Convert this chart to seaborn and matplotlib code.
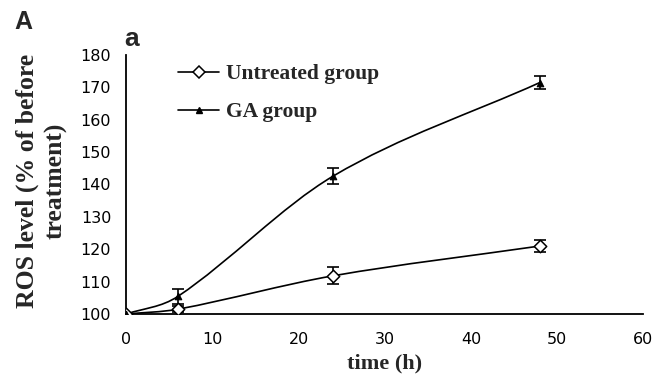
import numpy as np
import pandas as pd
import matplotlib
matplotlib.use("Agg")
import matplotlib.pyplot as plt
from matplotlib.path import Path
from matplotlib.patches import PathPatch
from matplotlib.lines import Line2D
import seaborn as sns

# ---- data ----
time_h = [0, 6, 24, 48]
untreated = [100, 101.5, 111.8, 121.0]
untreated_err = [0, 1.0, 2.6, 2.0]
ga = [100, 105.5, 142.6, 171.5]
ga_err = [0, 2.3, 2.5, 2.0]
series_names = ["Untreated group", "GA group"]
x_ticks = [0, 10, 20, 30, 40, 50, 60]
y_ticks = [100, 110, 120, 130, 140, 150, 160, 170, 180]

sns.set_theme(style="white")
plt.rcParams["font.family"] = ["DejaVu Sans"]

fig = plt.figure(figsize=(6.64, 3.84), dpi=100)
ax = fig.add_axes([0.1905, 0.1823, 0.7783, 0.6745])

df = pd.DataFrame({
    "time": time_h * 2,
    "ros": untreated + ga,
    "err": untreated_err + ga_err,
    "group": [series_names[0]] * len(time_h) + [series_names[1]] * len(time_h),
})


def smooth_path(xs, ys):
    x = np.asarray(xs, dtype=float)
    y = np.asarray(ys, dtype=float)
    n = len(x)
    m = np.zeros(n)
    for i in range(n):
        a = max(i - 1, 0)
        b = min(i + 1, n - 1)
        m[i] = (y[b] - y[a]) / (x[b] - x[a])
    verts = [(x[0], y[0])]
    codes = [Path.MOVETO]
    for i in range(n - 1):
        h = (x[i + 1] - x[i]) / 3.0
        verts += [(x[i] + h, y[i] + h * m[i]),
                  (x[i + 1] - h, y[i + 1] - h * m[i + 1]),
                  (x[i + 1], y[i + 1])]
        codes += [Path.CURVE4] * 3
    return Path(verts, codes)


lw = 1.2
for name, sub in df.groupby("group", sort=False):
    ax.add_patch(PathPatch(smooth_path(sub["time"], sub["ros"]), facecolor="none",
                           edgecolor="black", lw=lw, transform=ax.transData, zorder=2))
    ax.errorbar(sub["time"], sub["ros"], yerr=sub["err"], fmt="none", ecolor="black",
                elinewidth=1.2, capsize=4.5, capthick=1.2, zorder=3)

sub_u = df[df.group == series_names[0]]
sub_g = df[df.group == series_names[1]]
sns.scatterplot(data=sub_u, x="time", y="ros", marker="D", s=40, facecolor="white",
                edgecolor="black", linewidth=1.1, ax=ax, zorder=4, legend=False)
sns.scatterplot(data=sub_g, x="time", y="ros", marker="^", s=22, color="black",
                edgecolor="black", linewidth=0.8, ax=ax, zorder=5, legend=False)

ax.set_xlim(0, 60)
ax.set_ylim(100, 180)
ax.set_xticks(x_ticks)
ax.set_yticks(y_ticks)
ax.set_xticklabels([str(t) for t in x_ticks], fontsize=11.5)
ax.set_yticklabels([str(t) for t in y_ticks], fontsize=11.5)
ax.tick_params(axis="both", direction="in", length=4, width=1.2, color="black",
               labelcolor="black")
ax.tick_params(axis="y", pad=11)
ax.tick_params(axis="x", pad=13)
for s in ["top", "right"]:
    ax.spines[s].set_visible(False)
for s in ["left", "bottom"]:
    ax.spines[s].set_color("black")
    ax.spines[s].set_linewidth(1.3)
ax.set_facecolor("white")

serif = ["Liberation Serif", "DejaVu Serif"]
ax.set_xlabel("time (h)", fontsize=16, fontweight="bold", family=serif)
ax.xaxis.set_label_coords(0.5, -0.153)
ax.set_ylabel("ROS level (% of before\ntreatment)", fontsize=18.5, fontweight="bold",
              family=serif, linespacing=1.3)
ax.yaxis.set_label_coords(-0.113, 0.514)

handles = [
    Line2D([], [], color="black", lw=lw, marker="D", ms=6.5, mfc="white", mec="black", mew=1.1),
    Line2D([], [], color="black", lw=lw, marker="^", ms=4.5, mfc="black", mec="black"),
]
leg = ax.legend(handles, series_names, loc="upper left", bbox_to_anchor=(0.1, 0.965),
                frameon=False, handlelength=1.9, handletextpad=0.3, labelspacing=0.83,
                borderpad=0, borderaxespad=0,
                prop={"family": serif, "weight": "bold", "size": 15.5})

fig.text(0.022, 0.975, "A", fontsize=18, fontweight="bold", family=["Liberation Sans"],
         va="top", ha="left")
fig.text(0.187, 0.93, "a", fontsize=19, fontweight="bold", family=["Liberation Sans"],
         va="top", ha="left")

fig.savefig("out.png", dpi=100, facecolor="white")
